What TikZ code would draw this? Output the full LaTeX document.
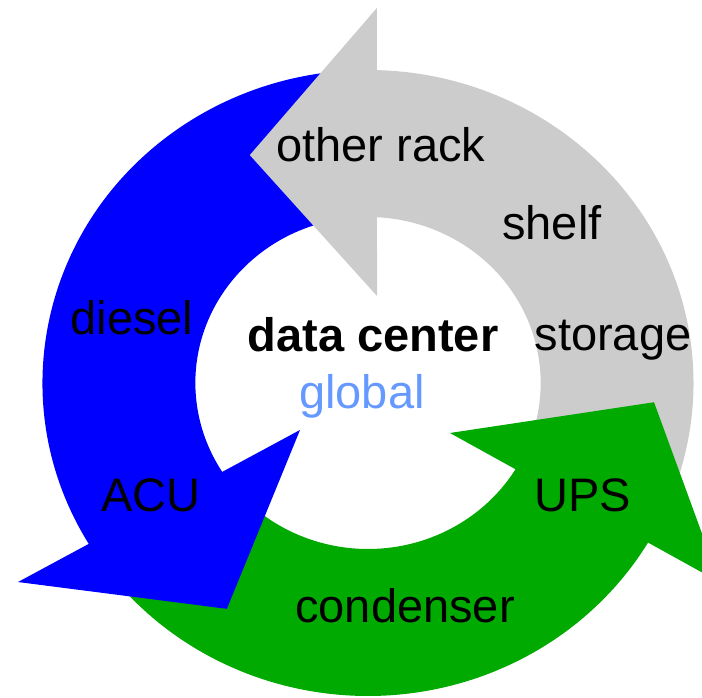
\documentclass[tikz,border=0pt]{standalone}
\usepackage{fontspec}
\setmainfont{Liberation Sans}
\definecolor{ringgray}{RGB}{204,204,204}
\definecolor{ringblue}{RGB}{0,0,255}
\definecolor{ringgreen}{RGB}{0,170,0}
\definecolor{globalblue}{RGB}{102,153,255}

\begin{document}
\begin{tikzpicture}[x=1pt, y=1pt,
            ringtext/.style={font=\fontsize{47}{56}\selectfont, anchor=base, inner sep=0pt},
            grayarrow/.style={fill=ringgray},
            bluearrow/.style={fill=ringblue},
            greenarrow/.style={fill=ringgreen}
        ]
            \clip (0,0) rectangle (702,697);

            \begin{scope}[shift={(368,314)}, xscale=1.04]
            % Bodies
            \foreach \sty/\from/\to in {grayarrow/-25/91, bluearrow/95/215, greenarrow/220/332}
                \path[\sty] (\from:166) arc[start angle=\from, end angle=\to, radius=166]
                    -- (\to:313) arc[start angle=\to, end angle=\from, radius=313] -- cycle;

            % Heads
            \path[grayarrow] (84.3:87.4) -- (116.5:254.7) -- (88.7:375.1) -- cycle;
            \path[bluearrow] (215.7:80.5) -- (239:263.5) -- (210.6:391) -- cycle;
            \path[greenarrow] (327.6:93.3) -- (356:275.7) -- (329.5:392.6) -- cycle;
            \end{scope}

            % Centre
            \node[ringtext, font=\fontsize{47}{56}\selectfont\bfseries] (dc) at (373,345) {data center};
            \node[ringtext, text=globalblue] (global) at (362,288) {global};

            % Gray arrow
            \node[ringtext] (rack) at (381,535) {other rack};
            \node[ringtext] (shelf) at (552,457) {shelf};
            \node[ringtext] (storage) at (613,346) {storage};

            % Blue arrow
            \node[ringtext] (diesel) at (132,362) {diesel};
            \node[ringtext] (acu) at (151,185) {ACU};

            % Green arrow
            \node[ringtext] (ups) at (583,185) {UPS};
            \node[ringtext] (cond) at (405,75) {condenser};
        \end{tikzpicture}
\end{document}
